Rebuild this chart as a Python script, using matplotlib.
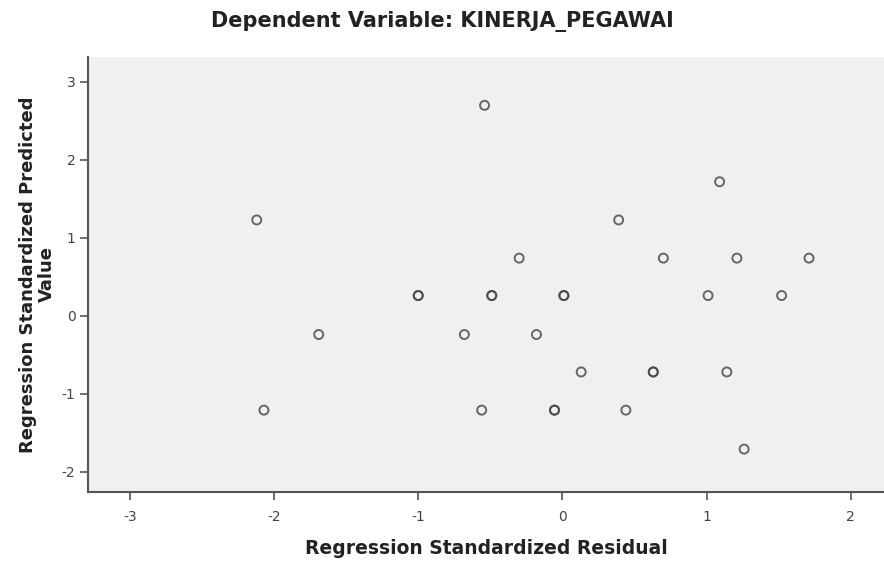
import matplotlib
matplotlib.use("Agg")
import matplotlib.pyplot as plt
import matplotlib.ticker as ticker

# standardized residual vs standardized predicted value
residual = [-0.54, 1.09, 0.39, -2.12,
            -0.30, 0.70, 1.21, 1.71,
            -1.00, -1.00, -0.49, -0.49, 0.01, 0.01, 1.01, 1.52,
            -1.69, -0.68, -0.18,
            0.13, 0.63, 0.63, 1.14,
            -2.07, -0.56, -0.055, -0.055, 0.44,
            1.26]
predicted = [2.70, 1.72, 1.23, 1.23,
             0.74, 0.74, 0.74, 0.74,
             0.26, 0.26, 0.26, 0.26, 0.26, 0.26, 0.26, 0.26,
             -0.24, -0.24, -0.24,
             -0.72, -0.72, -0.72, -0.72,
             -1.21, -1.21, -1.21, -1.21, -1.21,
             -1.71]

x_ticks = [-3, -2, -1, 0, 1, 2]
y_ticks = [-2, -1, 0, 1, 2, 3]

plt.rcParams['font.family'] = ['DejaVu Sans']
plt.rcParams['axes.unicode_minus'] = False

fig = plt.figure(figsize=(8.84, 5.65), dpi=100)
ax = fig.add_axes([88 / 884, 1 - 492 / 565, 796 / 884, 435 / 565])
ax.set_facecolor("#f0f0f0")

ax.scatter(residual, predicted, s=42, facecolors="none", edgecolors="#444444",
           linewidths=1.4, alpha=0.8, zorder=3)

ax.set_xlim(-3.29, 2.23)
ax.set_ylim(-2.26, 3.32)
ax.xaxis.set_major_locator(ticker.FixedLocator(x_ticks))
ax.yaxis.set_major_locator(ticker.FixedLocator(y_ticks))

for side in ["left", "bottom"]:
    ax.spines[side].set_color("#555555")
    ax.spines[side].set_linewidth(1.5)
for side in ["top", "right"]:
    ax.spines[side].set_visible(False)

ax.tick_params(axis="both", direction="out", length=6, width=1.2, color="#555555",
               labelsize=10, labelcolor="#444444")
ax.tick_params(axis="x", pad=7)
ax.tick_params(axis="y", pad=3)

ax.set_xlabel("Regression Standardized Residual", fontsize=13.5, fontweight="bold",
              color="#222222", labelpad=11)
ax.set_ylabel("Regression Standardized Predicted\nValue", fontsize=13,
              fontweight="bold", color="#222222", labelpad=4, linespacing=1.1)

fig.text(0.5, 1 - 22 / 565, "Dependent Variable: KINERJA_PEGAWAI", ha="center",
         va="center", fontsize=15, fontweight="bold", color="#222222")

fig.savefig("out.png", dpi=100)
